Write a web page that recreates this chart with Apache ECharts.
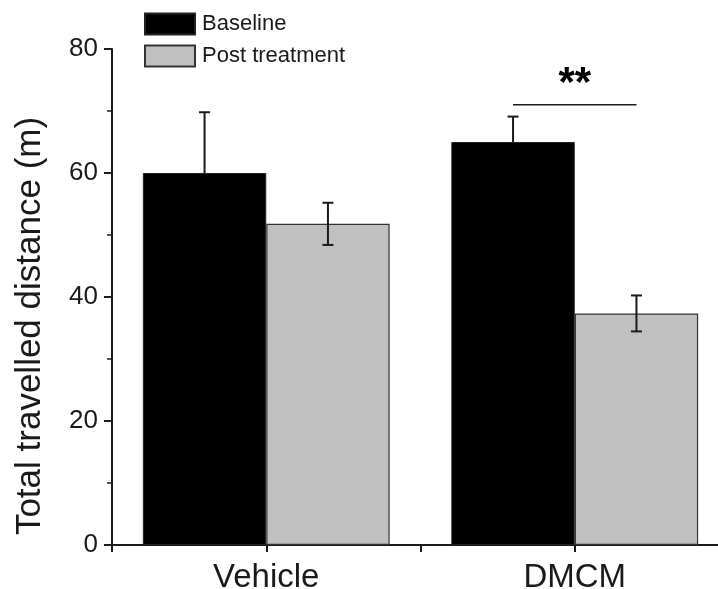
<!DOCTYPE html>
<html>
<head>
<meta charset="utf-8">
<script src="https://cdn.jsdelivr.net/npm/echarts@6/dist/echarts.min.js"></script>
<style>html,body{margin:0;padding:0;background:#fff}#c{width:718px;height:589px}</style>
</head>
<body>
<div id="c"></div>
<script>
const categories = ['Vehicle', 'DMCM'];
const seriesNames = ['Baseline', 'Post treatment'];
const baselineMean = [60.0, 65.0];
const baselineErr = [9.8, 4.1];
const postMean = [51.8, 37.35];
const postErr = [3.4, 2.9];
const yMin = 0, yMax = 80, yStep = 20;
const sigCategory = 1;
const sigLevel = 71;
const sigLabel = '**';
const yTitle = 'Total travelled distance (m)';

const FONT = '"Liberation Sans", Arial, sans-serif';
const INK = '#1a1a1a';

function errRender(offsetFrac, upperOnly) {
  return function (params, api) {
    const ci = api.value(0), m = api.value(1), e = api.value(2);
    const c = api.coord([ci, m]);
    const band = api.size([1, 0])[0];
    const x = c[0] + offsetFrac * band;
    const top = api.coord([ci, m + e])[1];
    const bot = upperOnly ? c[1] : api.coord([ci, m - e])[1];
    const hw = 5.5;
    const st = { stroke: INK, lineWidth: 2 };
    const children = [
      { type: 'line', shape: { x1: x, y1: top, x2: x, y2: bot }, style: st },
      { type: 'line', shape: { x1: x - hw, y1: top, x2: x + hw, y2: top }, style: st }
    ];
    if (!upperOnly) {
      children.push({ type: 'line', shape: { x1: x - hw, y1: bot, x2: x + hw, y2: bot }, style: st });
    }
    return { type: 'group', children: children };
  };
}

function sigRender(params, api) {
  const ci = api.value(0), lvl = api.value(1);
  const c = api.coord([ci, lvl]);
  const band = api.size([1, 0])[0];
  return {
    type: 'group',
    children: [
      { type: 'line', shape: { x1: c[0] - 0.2 * band, y1: c[1], x2: c[0] + 0.2 * band, y2: c[1] },
        style: { stroke: INK, lineWidth: 1.6 } },
      { type: 'text', x: c[0], y: c[1] + 1,
        style: { text: sigLabel, font: 'bold 42px ' + FONT, fill: '#000', align: 'center', verticalAlign: 'bottom' } }
    ]
  };
}

const chart = echarts.init(document.getElementById('c'), null, { renderer: 'canvas' });
chart.setOption({
  animation: false,
  backgroundColor: '#fff',
  grid: { left: 112, top: 49, width: 617, height: 496, containLabel: false, outerBoundsMode: 'none' },
  legend: {
    data: seriesNames,
    orient: 'vertical',
    left: 144, top: 12.5,
    padding: 0,
    icon: 'rect',
    itemWidth: 50, itemHeight: 21, itemGap: 9,
    textStyle: { fontFamily: FONT, fontSize: 22, color: INK, padding: [0, 0, 0, 2] },
    selectedMode: false
  },
  xAxis: [
    {
      type: 'category', data: categories, position: 'bottom',
      axisLine: { show: true, lineStyle: { color: INK, width: 2 } },
      axisTick: { show: true, length: 7, lineStyle: { color: INK, width: 2 } },
      axisLabel: { show: false },
      splitLine: { show: false }
    },
    {
      type: 'category', data: categories, position: 'bottom',
      axisLine: { show: false },
      axisTick: { show: true, alignWithLabel: true, length: 7, lineStyle: { color: INK, width: 2 } },
      axisLabel: { show: true, fontFamily: FONT, fontSize: 33, color: INK, margin: 16 },
      splitLine: { show: false }
    }
  ],
  yAxis: {
    type: 'value', min: yMin, max: yMax, interval: yStep,
    axisLine: { show: true, lineStyle: { color: INK, width: 2 } },
    axisTick: { show: true, length: 8, lineStyle: { color: INK, width: 2 } },
    minorTick: { show: true, splitNumber: 2, length: 5, lineStyle: { color: INK, width: 1.5 } },
    axisLabel: { fontFamily: FONT, fontSize: 26, color: INK, margin: 14 },
    splitLine: { show: false }
  },
  graphic: [
    { type: 'text', x: 30, y: 326, rotation: Math.PI / 2,
      style: { text: yTitle, font: '35px ' + FONT, fill: INK, align: 'center', verticalAlign: 'middle' } }
  ],
  series: [
    {
      name: seriesNames[0], type: 'bar', xAxisIndex: 0, data: baselineMean,
      barWidth: '40%', barGap: '0%',
      itemStyle: { color: '#000000', borderColor: '#222', borderWidth: 1 }
    },
    {
      name: seriesNames[1], type: 'bar', xAxisIndex: 0, data: postMean,
      barWidth: '40%', barGap: '0%',
      itemStyle: { color: '#c0c0c0', borderColor: '#333', borderWidth: 1.2 }
    },
    {
      type: 'custom', xAxisIndex: 0, renderItem: errRender(-0.2, true), z: 5,
      data: categories.map((c, i) => [i, baselineMean[i], baselineErr[i]])
    },
    {
      type: 'custom', xAxisIndex: 0, renderItem: errRender(0.2, false), z: 5,
      data: categories.map((c, i) => [i, postMean[i], postErr[i]])
    },
    {
      type: 'custom', xAxisIndex: 0, renderItem: sigRender, z: 5,
      data: [[sigCategory, sigLevel]]
    }
  ]
});
</script>
</body>
</html>
